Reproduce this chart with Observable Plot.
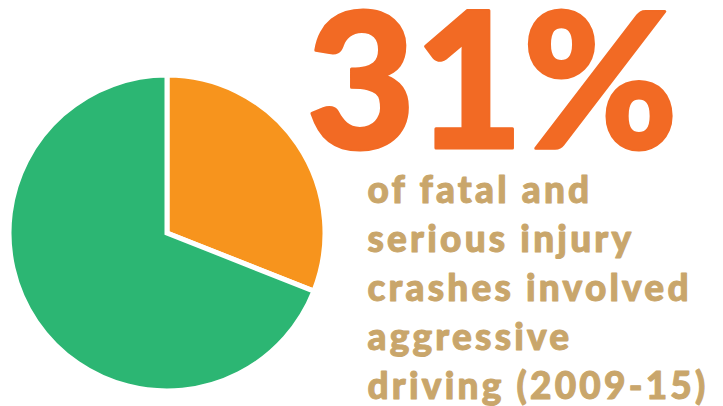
<!DOCTYPE html>
<html><head><meta charset="utf-8">
<script src="https://cdn.jsdelivr.net/npm/d3@7"></script>
<script src="https://cdn.jsdelivr.net/npm/@observablehq/plot@0.6"></script>
<style>html,body{margin:0;padding:0;background:#fff;} #chart svg{display:block}</style>
</head><body><div id="chart"></div>
<script>
const categories = ["Aggressive driving", "Other"];
const shares = [31, 69];
const sliceColors = ["#F7941D", "#2CB673"];
const headline = "31%";
const bodyLines = ["of fatal and", "serious injury", "crashes involved", "aggressive", "driving (2009-15)"];

const slices = d3.pie().sort(null).value(d => d.share)(
  categories.map((c, i) => ({category: c, share: shares[i]}))
);

const pieMark = Plot.dot(slices, {
  x: () => 0,
  y: () => 0,
  fill: d => d.data.category,
  render(index, scales, values, dimensions, context) {
    const r = Math.abs(scales.x(1) - scales.x(0));
    const arc = d3.arc().innerRadius(0).outerRadius(r);
    const g = d3.select(context.document.createElementNS("http://www.w3.org/2000/svg", "g"));
    for (const i of index) {
      g.append("path")
        .attr("transform", `translate(${values.x[i]},${values.y[i]})`)
        .attr("d", arc(slices[i]))
        .attr("fill", values.fill[i])
        .attr("stroke", "#fff")
        .attr("stroke-width", 5)
        .attr("stroke-linejoin", "miter");
    }
    return g.node();
  }
});

function spaced(spacing) {
  return function(index, scales, values, dimensions, context, next) {
    const g = next(index, scales, values, dimensions, context);
    g.setAttribute("letter-spacing", spacing);
    g.setAttribute("paint-order", "stroke");
    return g;
  };
}

const headlineMark = Plot.text([headline], {
  text: d => d,
  frameAnchor: "top-left",
  dx: 306, dy: 147,
  lineAnchor: "bottom",
  textAnchor: "start",
  fontSize: 188,
  fontWeight: 900,
  fontFamily: "Lato",
  fill: "#F26A24",
  stroke: "#F26A24",
  strokeWidth: 3,
  render: spaced("-1")
});

const bodyMark = Plot.text([bodyLines.join("\n")], {
  text: d => d,
  frameAnchor: "top-left",
  dx: 367, dy: 398,
  lineAnchor: "bottom",
  textAnchor: "start",
  lineHeight: 49 / 37,
  fontSize: 37,
  fontWeight: 900,
  fontFamily: "Lato",
  fill: "#C9A66B",
  stroke: "#C9A66B",
  strokeWidth: 1,
  render: spaced("3.2")
});

const chart = Plot.plot({
  width: 723,
  height: 406,
  margin: 0,
  style: {background: "#fff", overflow: "visible"},
  x: {domain: [-1, 1], range: [9, 325], axis: null},
  y: {domain: [-1, 1], range: [391, 75], axis: null},
  color: {domain: categories, range: sliceColors},
  marks: [pieMark, headlineMark, bodyMark]
});
document.getElementById("chart").append(chart);
</script>
</body></html>
